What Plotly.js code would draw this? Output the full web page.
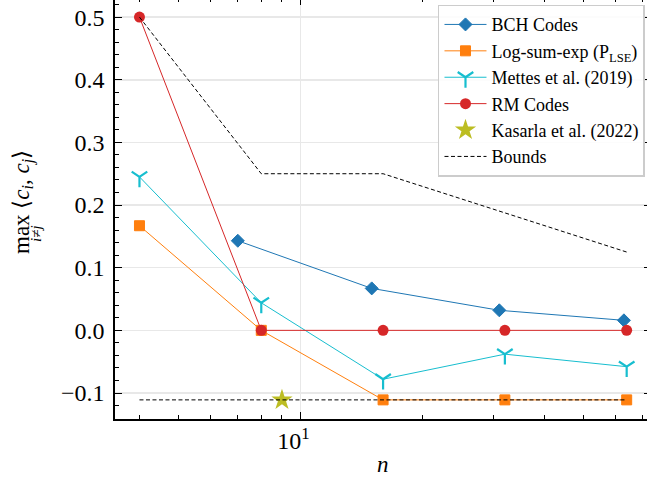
<!DOCTYPE html>
<html>
<head>
<meta charset="utf-8">
<script src="https://cdn.plot.ly/plotly-3.0.1.min.js"></script>
<style>
html, body { margin:0; padding:0; overflow:hidden; background:#fff; width:647px; height:480px; }
#chart { position:absolute; left:0; top:-10px; }
</style>
</head>
<body>
<div id="chart"></div>
<script>
// Data
const bchN = [7, 15, 31, 63];
const bchV = [0.143, 0.067, 0.032, 0.016];
const lseN = [4, 8, 16, 32, 64];
const lseV = [0.167, 0.0, -0.111, -0.111, -0.111];
const mettesN = [4, 8, 16, 32, 64];
const mettesV = [0.245, 0.044, -0.078, -0.038, -0.058];
const rmN = [4, 8, 16, 32, 64];
const rmV = [0.5, 0.0, 0.0, 0.0, 0.0];
const kasarlaN = [9];
const kasarlaV = [-0.111];
const upperN = [4, 8, 16, 32, 64];
const upperV = [0.5, 0.25, 0.25, 0.1875, 0.125];
const lowerN = [4, 64];
const lowerV = [-0.111, -0.111];
const yTicks = [-0.1, 0.0, 0.1, 0.2, 0.3, 0.4, 0.5];
const yTickText = ['\u22120.1', '0.0', '0.1', '0.2', '0.3', '0.4', '0.5'];
const xTicks = [10];
const xTickText = ['10<sup>1</sup>'];
const xMinor = [4, 5, 6, 7, 8, 9, 20, 30, 40, 50, 60, 70];

const FONT = '"Liberation Serif", "Times New Roman", serif';

const traces = [
  {x: bchN, y: bchV, name: 'BCH Codes', mode: 'lines+markers', type: 'scatter',
   line: {color: '#1f77b4', width: 1},
   marker: {symbol: 'diamond', size: 10, color: '#1f77b4', line: {color: '#1f77b4', width: 1}}},
  {x: lseN, y: lseV, name: 'Log-sum-exp (P<sub>LSE</sub>)', mode: 'lines+markers', type: 'scatter',
   line: {color: '#ff7f0e', width: 1},
   marker: {symbol: 'square', size: 10, color: '#ff7f0e', line: {color: '#ff7f0e', width: 1}}},
  {x: mettesN, y: mettesV, name: 'Mettes et al. (2019)', mode: 'lines+markers', type: 'scatter',
   line: {color: '#17becf', width: 1},
   marker: {symbol: 'y-down', size: 13, color: '#17becf', line: {color: '#17becf', width: 2.2}}},
  {x: rmN, y: rmV, name: 'RM Codes', mode: 'lines+markers', type: 'scatter',
   line: {color: '#d62728', width: 1},
   marker: {symbol: 'circle', size: 11, color: '#d62728', line: {color: '#d62728', width: 0}}},
  {x: kasarlaN, y: kasarlaV, name: 'Kasarla et al. (2022)', mode: 'markers', type: 'scatter',
   marker: {symbol: 'star', size: 16, color: '#bcbd22', line: {color: '#bcbd22', width: 0}}},
  {x: upperN, y: upperV, name: 'Bounds', mode: 'lines', type: 'scatter', legendgroup: 'b',
   line: {color: '#000', width: 1, dash: '4px,2.5px'}},
  {x: lowerN, y: lowerV, name: 'Bounds', mode: 'lines', type: 'scatter', legendgroup: 'b', showlegend: false,
   line: {color: '#000', width: 1, dash: '4px,2.5px'}}
];

const layout = {
  width: 660, height: 490,
  margin: {l: 115, r: 9, t: 8, b: 61, pad: 0},
  paper_bgcolor: '#fff', plot_bgcolor: '#fff',
  font: {family: FONT, color: '#000', size: 22},
  showlegend: true,
  legend: {
    x: 0.9888, y: 0.984, xanchor: 'right', yanchor: 'top',
    bgcolor: 'rgba(255,255,255,0.85)', bordercolor: '#cccccc', borderwidth: 1.5,
    font: {family: FONT, size: 18, color: '#000'},
    itemwidth: 42,
    tracegroupgap: 0
  },
  xaxis: {
    type: 'log',
    range: [Math.log10(3.48), Math.log10(73.5)],
    tickmode: 'array', tickvals: xTicks, ticktext: xTickText,
    ticks: 'inside', ticklen: 7, tickwidth: 1, tickcolor: '#000',
    showline: true, linecolor: '#000', linewidth: 1.6, mirror: 'allticks',
    showgrid: true, gridcolor: '#e8e8e8', gridwidth: 1.5,
    zeroline: false,
    ticklabelstandoff: 0,
    ticklabelshift: -7,
    tickfont: {family: FONT, size: 24, color: '#000'},
    minor: {tickmode: 'array', tickvals: xMinor, ticks: 'inside', ticklen: 4, tickwidth: 1, tickcolor: '#000', showgrid: false}
  },
  yaxis: {
    range: [-0.1415, 0.5305],
    tickmode: 'array', tickvals: yTicks, ticktext: yTickText,
    ticks: 'inside', ticklen: 7, tickwidth: 1, tickcolor: '#000',
    showline: true, linecolor: '#000', linewidth: 1.6, mirror: 'allticks',
    showgrid: true, gridcolor: '#e8e8e8', gridwidth: 1.5,
    zeroline: false,
    ticklabelstandoff: 4,
    tickfont: {family: FONT, size: 24, color: '#000'},
    minor: {dtick: 0.02, tick0: 0, ticks: 'inside', ticklen: 4, tickwidth: 1, tickcolor: '#000', showgrid: false}
  },
  annotations: [
    {xref: 'paper', yref: 'paper', x: 0.5, y: -0.109, xanchor: 'center', yanchor: 'middle',
     text: '<i>n</i>', showarrow: false, font: {family: FONT, size: 23, color: '#000'}},
    {xref: 'paper', yref: 'paper', x: -0.172, y: 0.515, xanchor: 'center', yanchor: 'middle',
     textangle: -90, showarrow: false,
     text: 'max \u27E8<i>c<sub>i</sub></i>, <i>c<sub>j</sub></i>\u27E9',
     font: {family: FONT, size: 23, color: '#000'}},
    {xref: 'paper', yref: 'paper', x: -0.147, y: 0.44, xanchor: 'center', yanchor: 'middle',
     textangle: -90, showarrow: false,
     text: '<i>i</i>\u2260<i>j</i>',
     font: {family: FONT, size: 15, color: '#000'}}
  ]
};

Plotly.newPlot('chart', traces, layout, {displayModeBar: false, staticPlot: true});
</script>
</body>
</html>
